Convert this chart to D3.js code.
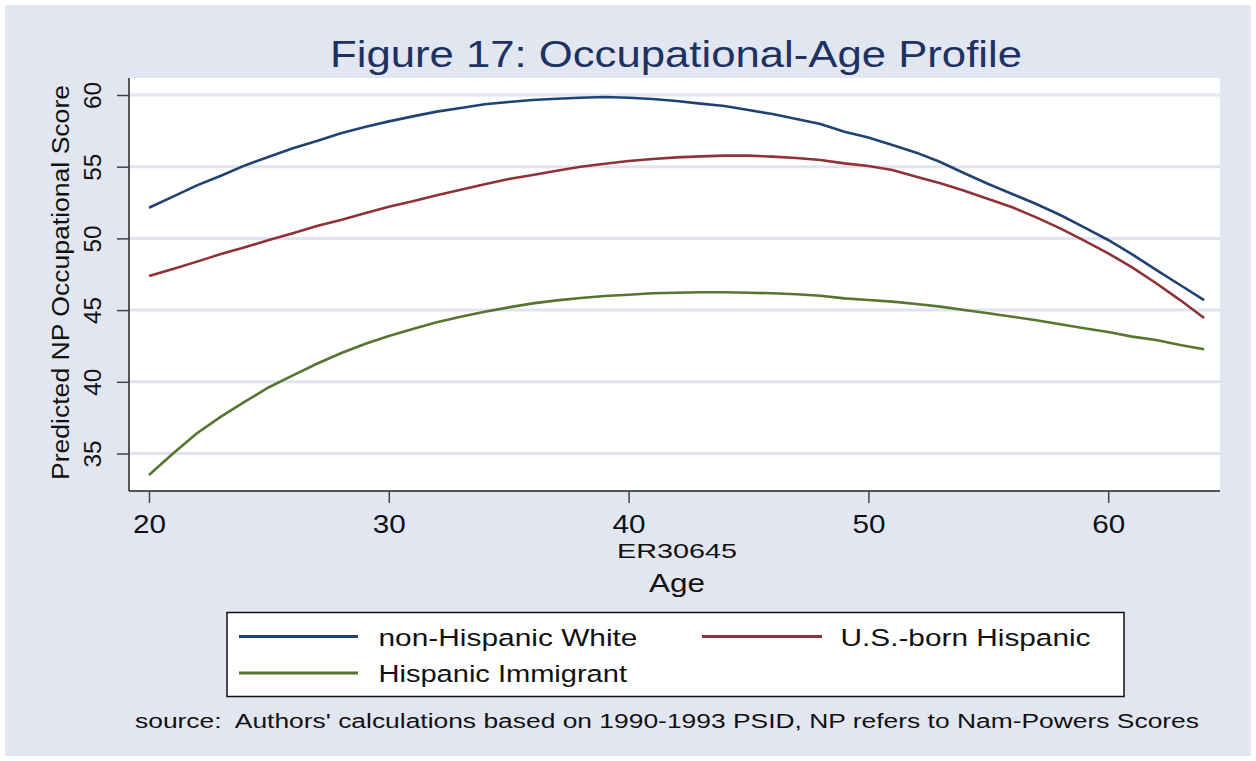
<!DOCTYPE html>
<html>
<head>
<meta charset="utf-8">
<script src="https://cdn.jsdelivr.net/npm/d3@7"></script>
<style>
  body { margin: 0; background: #fff; }
  svg text { font-family: "Liberation Sans", Arial, sans-serif; }
</style>
</head>
<body>
<svg width="1256" height="761"></svg>
<script>
const svg_width = 1256;
const svg_height = 761;

// ages on the x axis
const ages = d3.range(20, 65);

// predicted NP occupational score, one value per age
const nonHispanicWhite = [
  52.14, 52.91, 53.70, 54.37, 55.09, 55.70, 56.28, 56.79, 57.33, 57.77,
  58.16, 58.51, 58.84, 59.09, 59.35, 59.51, 59.65, 59.74, 59.81, 59.86,
  59.81, 59.72, 59.58, 59.40, 59.23, 58.95, 58.67, 58.33, 57.98, 57.44,
  57.03, 56.51, 55.98, 55.33, 54.54, 53.79, 53.10, 52.40, 51.63, 50.77,
  49.89, 48.89, 47.80, 46.75, 45.70
];
const usBornHispanic = [
  47.38, 47.87, 48.38, 48.91, 49.38, 49.89, 50.36, 50.86, 51.28, 51.75,
  52.21, 52.59, 53.01, 53.40, 53.77, 54.14, 54.42, 54.72, 55.00, 55.21,
  55.40, 55.54, 55.65, 55.72, 55.77, 55.77, 55.70, 55.61, 55.47, 55.23,
  55.05, 54.77, 54.30, 53.84, 53.33, 52.75, 52.17, 51.47, 50.70, 49.84,
  48.96, 47.98, 46.87, 45.70, 44.45
];
const hispanicImmigrant = [
  33.50, 35.00, 36.41, 37.57, 38.62, 39.62, 40.45, 41.26, 41.99, 42.64,
  43.19, 43.68, 44.15, 44.54, 44.89, 45.19, 45.47, 45.68, 45.84, 45.98,
  46.07, 46.17, 46.21, 46.24, 46.24, 46.21, 46.17, 46.10, 46.00, 45.82,
  45.70, 45.59, 45.43, 45.24, 45.01, 44.78, 44.54, 44.29, 44.01, 43.73,
  43.47, 43.15, 42.92, 42.57, 42.27
];

const series_names = ["non-Hispanic White", "U.S.-born Hispanic", "Hispanic Immigrant"];
const series_colors = ["#1f4273", "#8e3238", "#557530"];
const x_ticks = [20, 30, 40, 50, 60];
const y_ticks = [35, 40, 45, 50, 55, 60];

const svg = d3.select("svg");

// outer graph region
svg.append("rect")
  .attr("x", 5).attr("y", 5)
  .attr("width", svg_width - 10).attr("height", svg_height - 10)
  .attr("fill", "#e1e6f0");

// plot region
const plot = { left: 129, right: 1220, top: 78, bottom: 491 };
svg.append("rect")
  .attr("x", plot.left).attr("y", plot.top)
  .attr("width", plot.right - plot.left).attr("height", plot.bottom - plot.top)
  .attr("fill", "#fff");

const x = d3.scaleLinear().domain([20, 60]).range([149, 1108.2]);
const y = d3.scaleLinear().domain([35, 60]).range([453.5, 95]);

// grid lines
svg.append("g").selectAll("line").data(y_ticks).join("line")
  .attr("x1", plot.left).attr("x2", plot.right)
  .attr("y1", d => y(d)).attr("y2", d => y(d))
  .attr("stroke", "#dfe4ee").attr("stroke-width", 3);

// y axis
const y_axis = svg.append("g")
  .attr("transform", `translate(${plot.left},0)`)
  .call(d3.axisLeft(y).tickValues(y_ticks).tickSize(12).tickSizeOuter(0).tickFormat(""));
y_axis.select(".domain").attr("d", `M0,${plot.top}V${plot.bottom}`).attr("stroke", "#222").attr("stroke-width", 1.5);
y_axis.selectAll(".tick line").attr("stroke", "#444").attr("stroke-width", 1.5);

y_axis.selectAll(".tick").append("text")
  .attr("transform", "translate(-28,0) rotate(-90)")
  .attr("text-anchor", "middle")
  .attr("fill", "#111")
  .attr("font-size", 24)
  .attr("textLength", 27).attr("lengthAdjust", "spacingAndGlyphs")
  .text(d => d);

// x axis
const x_axis = svg.append("g")
  .attr("transform", `translate(0,${plot.bottom})`)
  .call(d3.axisBottom(x).tickValues(x_ticks).tickSize(12).tickSizeOuter(0).tickFormat(""));
x_axis.select(".domain").attr("d", `M${plot.left},0H${plot.right}`).attr("stroke", "#222").attr("stroke-width", 1.5);
x_axis.selectAll(".tick line").attr("stroke", "#444").attr("stroke-width", 1.5);

x_axis.selectAll(".tick").append("text")
  .attr("y", 41.5)
  .attr("text-anchor", "middle")
  .attr("fill", "#111")
  .attr("font-size", 26)
  .attr("textLength", 33).attr("lengthAdjust", "spacingAndGlyphs")
  .text(d => d);

// series lines
const all_series = [nonHispanicWhite, usBornHispanic, hispanicImmigrant];
const line = d3.line().x((d, i) => x(ages[i])).y(d => y(d));

svg.append("g").selectAll("path").data(all_series).join("path")
  .attr("d", d => line(d))
  .attr("fill", "none")
  .attr("stroke", (d, i) => series_colors[i])
  .attr("stroke-width", 2.6);

// texts
function addText(txt, px, py, size, len, color) {
  return svg.append("text")
    .attr("x", px).attr("y", py)
    .attr("text-anchor", "middle")
    .attr("font-size", size)
    .attr("fill", color || "#111")
    .attr("textLength", len).attr("lengthAdjust", "spacingAndGlyphs")
    .text(txt);
}

addText("Figure 17: Occupational-Age Profile", 676, 67, 37.5, 692, "#1e3262");
addText("ER30645", 677, 558, 21, 120);
addText("Age", 677, 592, 26, 56);

svg.append("text")
  .attr("transform", "translate(69,282.5) rotate(-90)")
  .attr("text-anchor", "middle")
  .attr("font-size", 23)
  .attr("fill", "#111")
  .attr("textLength", 395).attr("lengthAdjust", "spacingAndGlyphs")
  .text("Predicted NP Occupational Score");

// legend
svg.append("rect")
  .attr("x", 227).attr("y", 612.5)
  .attr("width", 897).attr("height", 84)
  .attr("fill", "#fff").attr("stroke", "#111").attr("stroke-width", 1.5);

const legend_items = [
  { key: [239, 358], ty: 636.5, tx: 378.5, tw: 259 },
  { key: [702, 822], ty: 636.5, tx: 840.5, tw: 250 },
  { key: [239, 358], ty: 673, tx: 378.5, tw: 248.5 }
];
const legend = svg.append("g").selectAll("g").data(legend_items).join("g");
legend.append("line")
  .attr("x1", d => d.key[0]).attr("x2", d => d.key[1])
  .attr("y1", d => d.ty).attr("y2", d => d.ty)
  .attr("stroke", (d, i) => series_colors[i]).attr("stroke-width", 3);
legend.append("text")
  .attr("x", d => d.tx).attr("y", d => d.ty + 9)
  .attr("font-size", 24.5)
  .attr("fill", "#111")
  .attr("textLength", d => d.tw).attr("lengthAdjust", "spacingAndGlyphs")
  .text((d, i) => series_names[i]);

// note
svg.append("text")
  .attr("x", 135).attr("y", 728)
  .attr("font-size", 19.5)
  .attr("fill", "#111")
  .attr("textLength", 1064).attr("lengthAdjust", "spacingAndGlyphs")
  .attr("xml:space", "preserve")
  .text("source:  Authors' calculations based on 1990-1993 PSID, NP refers to Nam-Powers Scores");
</script>
</body>
</html>
